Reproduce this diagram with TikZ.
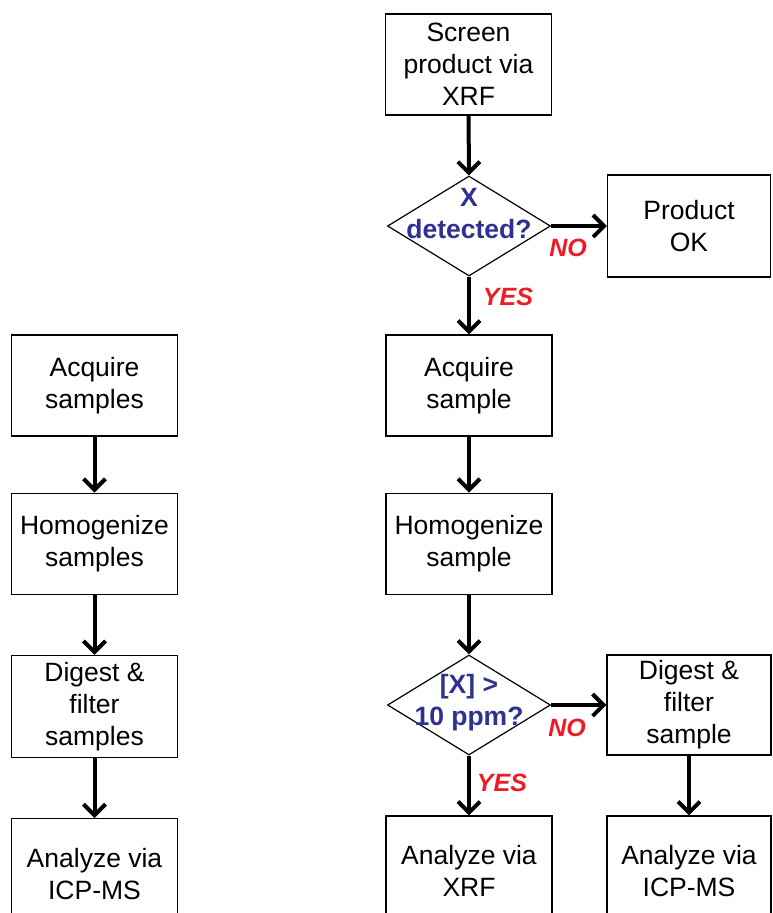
\documentclass[tikz,border=0pt]{standalone}
\usepackage{fontspec}
\setmainfont{Liberation Sans}
\usepackage{tikz}
\usetikzlibrary{arrows.meta,positioning,shapes.geometric}
\definecolor{qblue}{RGB}{46,49,146}
\definecolor{ansred}{RGB}{237,28,36}
\newcommand{\boxfont}{\fontsize{26.5}{32}\selectfont}
\newcommand{\ansfont}{\fontsize{25}{30}\selectfont\bfseries\itshape}

\begin{document}
\begin{tikzpicture}
              [x=1pt,y=-1pt,
                box/.style={rectangle,draw,line width=1.2pt,minimum width=166pt,minimum height=101pt,align=center,font=\boxfont},
                decision/.style={diamond,draw,line width=1.2pt,minimum width=163pt,minimum height=100pt,inner sep=0pt},
                question/.style={align=center,font=\boxfont\bfseries,text=qblue},
                answer/.style={font=\ansfont,text=ansred},
                flow/.style={line width=4pt,-{Straight Barb[length=11pt,width=22pt]}}]
              \useasboundingbox (0,0) rectangle (772,913);
              \clip (0,0) rectangle (772,913);
              % left column
              \node[box] (acqL) at (94.5,385.5) {Acquire\\samples};
              \node[box] (homL) [below=56pt of acqL] {Homogenize\\samples};
              \node[box,minimum height=102pt] (digL) [below=60pt of homL] {Digest \&\\filter\\samples};
              \node[box,minimum height=110pt] (icpL) [below=60pt of digL] {Analyze via\\ICP-MS};
              % right column
              \node[box] (scr) at (468.5,64.5) {Screen\\product via\\XRF};
              \node[decision] (det) at (469,226) {};
              \node[question] (detq) at (469,214) {X\\detected?};
              \node[box,minimum width=163pt,minimum height=102pt] (ok) at (689,226) {Product\\OK};
              \node[box] (acq) at (469,385.5) {Acquire\\sample};
              \node[box] (hom) [below=56pt of acq] {Homogenize\\sample};
              \node[decision] (ppm) at (469,705) {};
              \node[question] (ppmq) at (469,703) {[X] >\\10 ppm?};
              \node[box,minimum width=164pt,minimum height=100pt] (dig) at (689,705) {Digest \&\\filter\\sample};
              \node[box,minimum height=110pt] (xrf) at (469,871) {Analyze via\\XRF};
              \node[box,minimum width=164pt,minimum height=110pt] (icp) at (689,871) {Analyze via\\ICP-MS};
              \node[answer] (no1) at (568,248) {NO};
              \node[answer] (yes1) at (508,297) {YES};
              \node[answer] (no2) at (567,728) {NO};
              \node[answer] (yes2) at (502,783) {YES};
              \foreach \from/\to in {acqL/homL,homL/digL,digL/icpL,scr/det,det/acq,acq/hom,hom/ppm,ppm/xrf,dig/icp}
              \draw[flow] (\from) -- (\to);
              \draw[flow] (det.east) -- (det.east -| ok.west);
              \draw[flow] (ppm.east) -- (ppm.east -| dig.west);
            \end{tikzpicture}
\end{document}
